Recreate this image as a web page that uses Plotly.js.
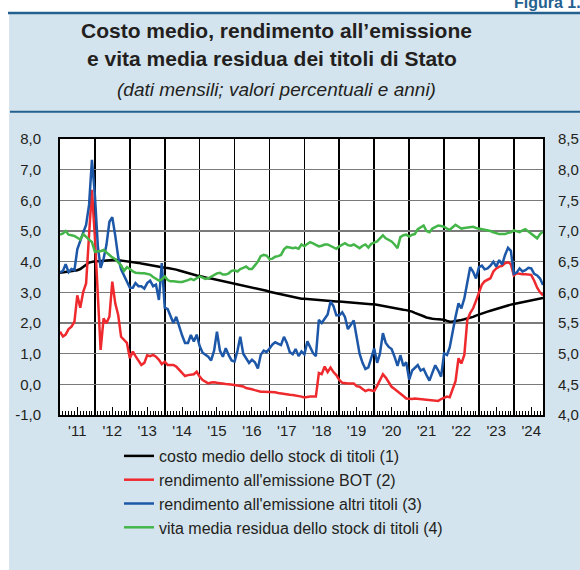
<!DOCTYPE html>
<html>
<head>
<meta charset="utf-8">
<script src="https://cdn.plot.ly/plotly-3.0.1.min.js"></script>
<style>
html,body{margin:0;padding:0;background:#fff;}
#chart{width:580px;height:570px;}
</style>
</head>
<body>
<div id="chart"></div>
<script>
// ---- DATA (monthly, from Jan 2011) ----
const startYear = 2011;
const seriesNames = [
  "costo medio dello stock di titoli (1)",
  "rendimento all'emissione BOT (2)",
  "rendimento all'emissione altri titoli (3)",
  "vita media residua dello stock di titoli (4)"
];
const costoMedio = [
  3.64,3.65,3.66,3.67,3.69,3.70,3.72,3.76,3.82,3.90,3.97,4.00,
  4.01,4.01,4.02,4.02,4.03,4.05,4.07,4.06,4.05,4.04,4.03,4.02,
  4.00,4.00,3.98,3.96,3.94,3.92,3.90,3.88,3.86,3.84,3.82,3.81,
  3.80,3.79,3.78,3.76,3.74,3.71,3.68,3.66,3.63,3.60,3.57,3.55,
  3.53,3.50,3.48,3.46,3.45,3.43,3.41,3.39,3.37,3.35,3.32,3.30,
  3.27,3.26,3.24,3.22,3.20,3.18,3.16,3.14,3.12,3.09,3.07,3.05,
  3.02,3.00,2.98,2.96,2.93,2.91,2.89,2.86,2.84,2.82,2.80,2.79,
  2.79,2.78,2.77,2.77,2.76,2.75,2.75,2.74,2.73,2.72,2.71,2.70,
  2.70,2.69,2.69,2.68,2.68,2.67,2.66,2.65,2.64,2.63,2.62,2.61,
  2.61,2.59,2.58,2.56,2.54,2.52,2.50,2.48,2.46,2.45,2.43,2.42,
  2.40,2.37,2.33,2.30,2.26,2.22,2.18,2.15,2.14,2.13,2.12,2.12,
  2.11,2.07,2.04,2.05,2.06,2.08,2.10,2.12,2.14,2.17,2.20,2.24,
  2.28,2.31,2.34,2.37,2.40,2.43,2.46,2.50,2.53,2.56,2.58,2.60,
  2.62,2.64,2.66,2.68,2.70,2.72,2.74,2.76,2.78,2.80,2.82
];
const rendimentoBOT = [
  1.72,1.56,1.62,1.80,1.88,2.04,2.90,2.50,3.02,3.29,4.87,6.34,
  4.80,2.70,1.12,2.15,1.99,2.21,3.35,2.64,2.26,1.55,1.45,1.35,
  0.85,1.07,0.92,0.75,0.63,0.70,0.95,0.92,0.96,0.90,0.80,0.66,
  0.74,0.63,0.62,0.63,0.58,0.47,0.36,0.27,0.30,0.31,0.33,0.41,
  0.25,0.14,0.10,0.03,0.06,0.07,0.05,0.03,0.03,0.01,0.00,0.00,
  -0.02,-0.04,-0.05,-0.07,-0.12,-0.13,-0.16,-0.19,-0.22,-0.24,-0.24,-0.24,
  -0.26,-0.26,-0.26,-0.28,-0.30,-0.32,-0.33,-0.34,-0.35,-0.36,-0.38,-0.40,
  -0.43,-0.41,-0.40,-0.40,-0.40,0.37,0.33,0.58,0.40,0.55,0.40,0.30,
  0.14,0.05,0.03,0.03,0.03,0.03,-0.06,-0.08,-0.15,-0.22,-0.18,-0.21,
  -0.22,-0.05,0.15,0.33,0.22,0.05,-0.08,-0.15,-0.22,-0.30,-0.38,-0.46,
  -0.47,-0.48,-0.46,-0.47,-0.47,-0.48,-0.49,-0.50,-0.51,-0.52,-0.54,-0.48,
  -0.45,-0.40,-0.42,-0.15,0.10,0.85,0.68,0.96,2.10,2.32,2.48,2.72,
  3.00,3.25,3.36,3.40,3.46,3.68,3.78,3.84,3.86,3.95,3.98,3.92,
  3.55,3.62,3.60,3.59,3.59,3.58,3.57,3.38,3.15,3.00,2.90
];
const rendimentoAltri = [
  3.65,3.70,3.92,3.66,3.76,3.72,4.40,4.70,4.95,5.20,5.85,7.32,
  6.17,4.50,3.80,4.10,4.55,5.30,5.45,4.85,4.15,3.75,3.55,3.35,
  3.15,3.15,3.30,3.20,3.20,3.12,3.30,3.38,3.20,3.25,2.75,3.95,
  2.50,2.45,2.25,2.00,2.20,1.85,1.60,1.35,1.35,1.61,1.40,1.62,
  1.25,1.03,0.97,0.90,0.78,1.10,1.72,1.10,0.90,1.18,0.95,0.78,
  0.74,1.10,1.55,1.00,0.85,0.70,0.80,0.72,0.52,0.96,1.10,1.05,
  1.17,1.30,1.37,1.33,1.28,1.55,1.35,1.05,0.98,1.15,0.92,1.07,
  0.98,1.40,1.23,1.02,0.92,2.10,2.00,2.15,2.28,2.70,2.55,2.25,
  2.25,2.35,2.20,1.80,1.92,2.08,1.55,1.00,0.70,0.50,0.55,0.85,
  1.17,0.70,1.00,1.67,1.35,1.22,1.15,0.90,0.60,0.95,0.60,0.72,
  0.15,0.45,0.53,0.63,0.45,0.50,0.30,0.12,0.38,0.62,0.45,0.25,
  1.01,0.96,1.20,1.75,2.20,2.64,2.48,2.80,3.35,3.82,3.67,3.45,
  3.82,3.87,3.75,3.78,3.87,4.00,3.84,4.05,3.91,4.22,4.45,4.35,
  3.60,3.65,3.78,3.68,3.72,3.80,3.78,3.60,3.55,3.45,3.24
];
const vitaMedia = [
  6.94,6.96,7.00,6.94,6.93,6.92,6.89,6.86,6.95,6.90,6.86,6.82,
  6.66,6.67,6.67,6.69,6.65,6.60,6.57,6.54,6.48,6.44,6.35,6.41,
  6.38,6.34,6.32,6.31,6.31,6.31,6.30,6.29,6.25,6.22,6.19,6.21,
  6.26,6.20,6.18,6.18,6.17,6.17,6.17,6.18,6.20,6.22,6.20,6.23,
  6.26,6.24,6.22,6.23,6.26,6.29,6.31,6.32,6.29,6.29,6.31,6.35,
  6.36,6.34,6.38,6.40,6.42,6.38,6.38,6.44,6.50,6.59,6.61,6.60,
  6.54,6.55,6.58,6.59,6.61,6.70,6.74,6.73,6.72,6.73,6.71,6.78,
  6.75,6.79,6.82,6.80,6.78,6.75,6.76,6.78,6.78,6.76,6.74,6.71,
  6.75,6.78,6.80,6.77,6.76,6.78,6.75,6.72,6.76,6.78,6.73,6.79,
  6.81,6.83,6.88,6.93,6.88,6.85,6.83,6.78,6.72,6.90,6.93,6.94,
  6.91,6.94,6.95,7.03,7.06,7.09,7.00,6.98,7.04,7.06,7.09,7.08,
  7.07,7.04,7.02,7.06,7.10,7.07,7.04,7.05,7.06,7.06,7.07,7.05,
  7.04,7.04,7.03,7.02,7.00,6.98,6.96,6.95,6.95,6.95,6.97,6.98,
  7.01,6.99,6.98,7.01,7.03,6.99,6.95,6.91,6.88,6.95,6.99
];
const yearTickLabels = ["'11","'12","'13","'14","'15","'16","'17","'18","'19","'20","'21","'22","'23","'24"];
const leftTickVals = [-1,0,1,2,3,4,5,6,7,8];
const leftTickText = ["-1,0","0,0","1,0","2,0","3,0","4,0","5,0","6,0","7,0","8,0"];
const rightTickVals = [4,4.5,5,5.5,6,6.5,7,7.5,8,8.5];
const rightTickText = ["4,0","4,5","5,0","5,5","6,0","6,5","7,0","7,5","8,0","8,5"];

// ---- build month dates ----
const months = costoMedio.map((_, k) => {
  const y = startYear + Math.floor(k / 12);
  const m = (k % 12) + 1;
  return y + '-' + (m < 10 ? '0' + m : m) + '-01';
});
const midYears = yearTickLabels.map((_, i) => (startYear + i) + '-07-01');
const xRange = ['2011-01-01', '2024-11-01'];

const FONT = 'Liberation Sans, Arial, Helvetica, sans-serif';
const TXT = '#231f20';
const BLUEBAR = '#24618f';

// plot area in px: l=60, r=543, t=139, b=415
const px2x = p => (p - 60) / 483;
const px2y = p => (415 - p) / 276;

const traces = [
  {x: months, y: costoMedio, name: seriesNames[0], type: 'scatter', mode: 'lines',
   line: {color: '#000000', width: 2.5}, xaxis: 'x', yaxis: 'y'},
  {x: months, y: rendimentoBOT, name: seriesNames[1], type: 'scatter', mode: 'lines',
   line: {color: '#ee2a2e', width: 2.5}, xaxis: 'x', yaxis: 'y'},
  {x: months, y: rendimentoAltri, name: seriesNames[2], type: 'scatter', mode: 'lines',
   line: {color: '#1d57a8', width: 2.5}, xaxis: 'x', yaxis: 'y'},
  {x: months, y: vitaMedia, name: seriesNames[3], type: 'scatter', mode: 'lines',
   line: {color: '#44b549', width: 2.5}, xaxis: 'x2', yaxis: 'y2'}
];

const layout = {
  width: 580, height: 570,
  margin: {l: 60, r: 37, t: 139, b: 155, pad: 0},
  paper_bgcolor: '#d4e4ee',
  plot_bgcolor: '#ffffff',
  font: {family: FONT, color: TXT, size: 15},
  showlegend: true,
  legend: {
    x: px2x(119), xanchor: 'left', y: px2y(439), yanchor: 'top',
    bgcolor: 'rgba(0,0,0,0)', borderwidth: 0,
    font: {family: FONT, size: 16, color: TXT},
    tracegroupgap: 0
  },
  xaxis: {
    type: 'date', range: xRange, fixedrange: true,
    tickmode: 'linear', tick0: '2011-01-01', dtick: 'M12',
    showticklabels: false, ticks: '',
    showgrid: true, gridcolor: '#000000', gridwidth: 1.6,
    showline: true, linecolor: '#000000', linewidth: 2, mirror: true,
    zeroline: false,
    minor: {tick0: '2011-01-01', dtick: 'M1', ticks: 'inside', ticklen: 4,
            tickwidth: 1, tickcolor: '#000000', showgrid: false}
  },
  xaxis2: {
    type: 'date', range: xRange, overlaying: 'x', anchor: 'y', side: 'bottom',
    tickmode: 'array', tickvals: midYears, ticktext: yearTickLabels,
    ticks: 'inside', ticklen: 8, tickwidth: 1, tickcolor: '#000000',
    showgrid: false, showline: false, zeroline: false,
    tickfont: {family: FONT, size: 15, color: TXT},
    ticklabelstandoff: 5
  },
  yaxis: {
    range: [-1, 8], tickmode: 'array', tickvals: leftTickVals, ticktext: leftTickText,
    ticks: '', showgrid: true, gridcolor: '#7a7a7a', gridwidth: 1.6,
    showline: true, linecolor: '#000000', linewidth: 2, mirror: true,
    zeroline: false, tickfont: {family: FONT, size: 15, color: TXT},
    ticklabelstandoff: 14
  },
  yaxis2: {
    range: [4, 8.5], overlaying: 'y', side: 'right', anchor: 'x2',
    tickmode: 'array', tickvals: rightTickVals, ticktext: rightTickText,
    ticks: '', showgrid: false, zeroline: false, showline: false,
    tickfont: {family: FONT, size: 15, color: TXT},
    ticklabelstandoff: 14
  },
  shapes: [
    {type: 'rect', xref: 'paper', yref: 'paper', x0: -0.2, x1: px2x(9), y0: -1, y1: 2,
     fillcolor: '#ffffff', line: {width: 0}, layer: 'below'},
    {type: 'rect', xref: 'paper', yref: 'paper', x0: -0.2, x1: 1.2, y0: px2y(12.5), y1: 2,
     fillcolor: '#ffffff', line: {width: 0}, layer: 'below'},
    {type: 'line', xref: 'paper', yref: 'paper', x0: px2x(8), x1: 1.2, y0: px2y(13), y1: px2y(13),
     line: {color: BLUEBAR, width: 2.5}},
    {type: 'line', xref: 'paper', yref: 'paper', x0: px2x(10), x1: 1.2, y0: px2y(111.7), y1: px2y(111.7),
     line: {color: BLUEBAR, width: 2}}
  ],
  annotations: [
    {xref: 'paper', yref: 'paper', x: px2x(512), y: px2y(2), xanchor: 'left', yanchor: 'middle',
     text: '<b>Figura 1.</b>', showarrow: false, font: {family: FONT, size: 16, color: BLUEBAR}},
    {xref: 'paper', yref: 'paper', x: px2x(276), y: px2y(30.5), xanchor: 'center', yanchor: 'middle',
     text: '<b>Costo medio, rendimento all’emissione</b>', showarrow: false,
     font: {family: FONT, size: 21, color: TXT}},
    {xref: 'paper', yref: 'paper', x: px2x(272), y: px2y(58), xanchor: 'center', yanchor: 'middle',
     text: '<b>e vita media residua dei titoli di Stato</b>', showarrow: false,
     font: {family: FONT, size: 21, color: TXT}},
    {xref: 'paper', yref: 'paper', x: px2x(276), y: px2y(89), xanchor: 'center', yanchor: 'middle',
     text: '<i>(dati mensili; valori percentuali e anni)</i>', showarrow: false,
     font: {family: FONT, size: 19, color: TXT}}
  ]
};

Plotly.newPlot('chart', traces, layout, {displayModeBar: false, staticPlot: true});
</script>
</body>
</html>
